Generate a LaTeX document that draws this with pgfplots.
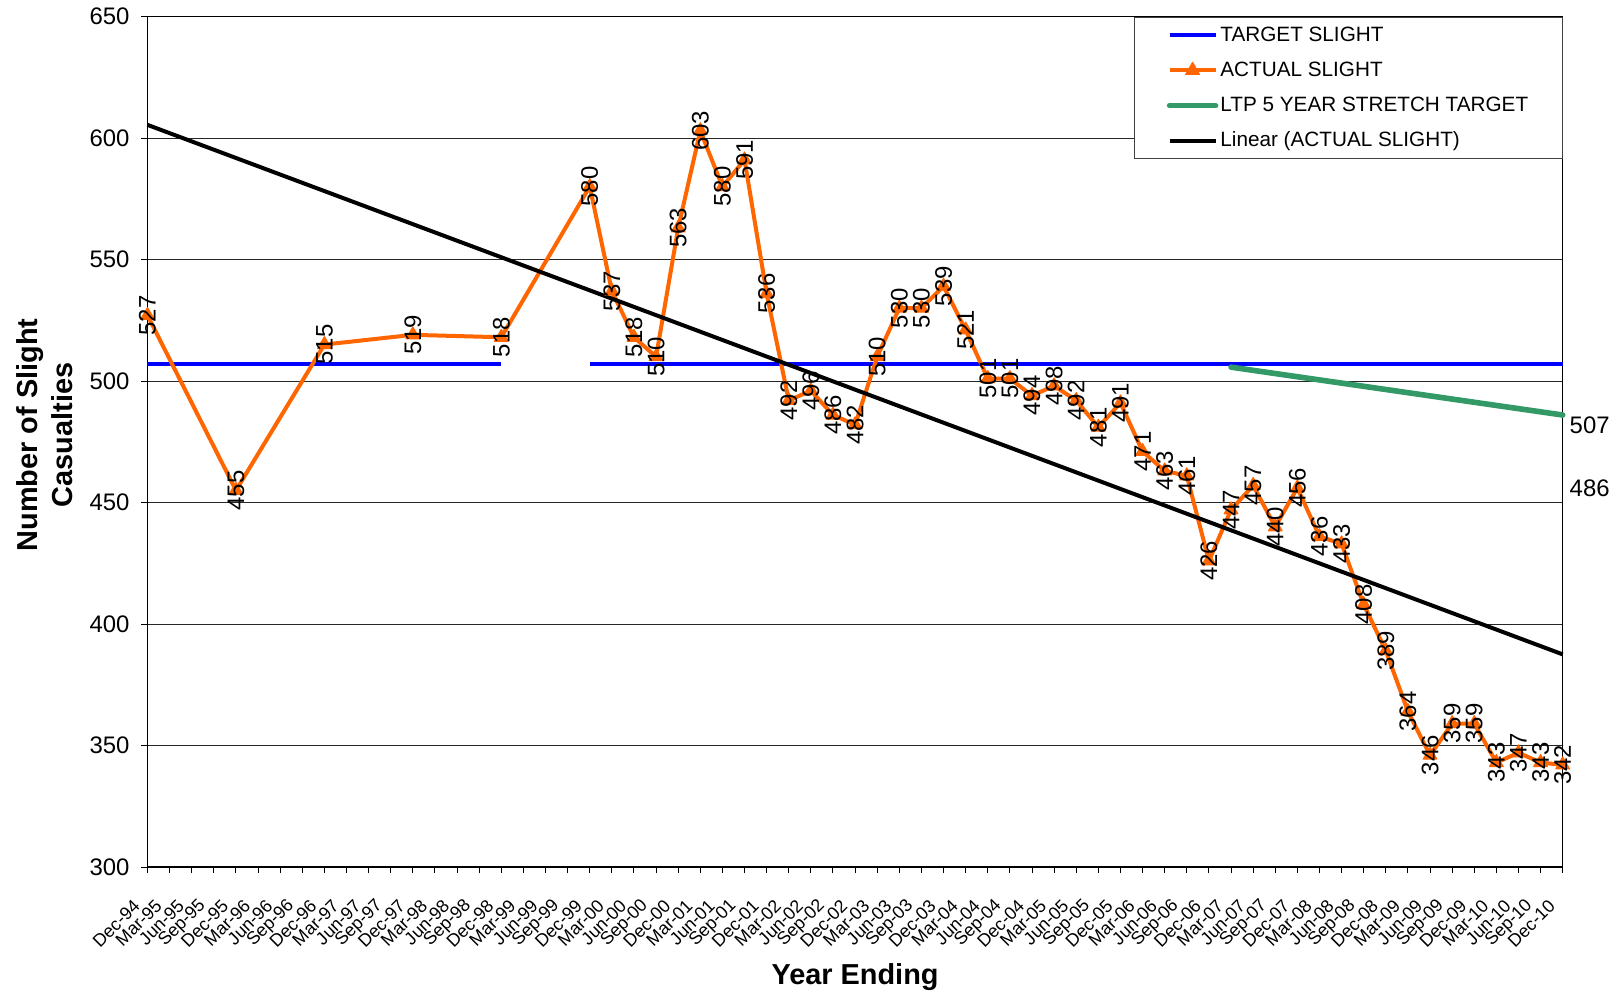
\documentclass[border=0pt]{standalone}
\usepackage{fontspec}
\setmainfont{Liberation Sans}
\usepackage{pgfplots}
\usepackage{pgfplotstable}
\pgfplotsset{compat=1.18}
\usetikzlibrary{calc}
\definecolor{actorange}{HTML}{FF6600}
\definecolor{ltpgreen}{HTML}{339966}

\pgfplotstableread{
x y
0 527
4 455
8 515
12 519
16 518
20 580
21 537
22 518
23 510
24 563
25 603
26 580
27 591
28 536
29 492
30 496
31 486
32 482
33 510
34 530
35 530
36 539
37 521
38 501
39 501
40 494
41 498
42 492
43 481
44 491
45 471
46 463
47 461
48 426
49 447
50 457
51 440
52 456
53 436
54 433
55 408
56 389
57 364
58 346
59 359
60 359
61 343
62 347
63 343
64 342
}\actual

\begin{document}
\begin{tikzpicture}
\begin{axis}[
  scale only axis, width=707.6bp, height=425.25bp,
  xmin=0, xmax=64, ymin=300, ymax=650,
  ytick={300,350,...,650},
  xtick={0,...,64},
  xticklabels={Dec-94,Mar-95,Jun-95,Sep-95,Dec-95,Mar-96,Jun-96,Sep-96,Dec-96,Mar-97,Jun-97,Sep-97,Dec-97,Mar-98,Jun-98,Sep-98,Dec-98,Mar-99,Jun-99,Sep-99,Dec-99,Mar-00,Jun-00,Sep-00,Dec-00,Mar-01,Jun-01,Sep-01,Dec-01,Mar-02,Jun-02,Sep-02,Dec-02,Mar-03,Jun-03,Sep-03,Dec-03,Mar-04,Jun-04,Sep-04,Dec-04,Mar-05,Jun-05,Sep-05,Dec-05,Mar-06,Jun-06,Sep-06,Dec-06,Mar-07,Jun-07,Sep-07,Dec-07,Mar-08,Jun-08,Sep-08,Dec-08,Mar-09,Jun-09,Sep-09,Dec-09,Mar-10,Jun-10,Sep-10,Dec-10},
  tick align=outside, major tick length=3bp,
  xtick pos=bottom, ytick pos=left,
  ymajorgrids, grid style={black!85, line width=0.5bp},
  axis line style={black, line width=0.6bp},
  tick style={black, line width=0.5bp},
  /pgf/number format/assume math mode=true,
  yticklabel style={font=\fontsize{12}{14}\selectfont, xshift=-2.5bp},
  xticklabel style={font=\fontsize{9}{10}\selectfont, xshift=-3bp, yshift=-12.5bp, rotate=45, anchor=east},
  xlabel={Year Ending},
  xlabel style={font=\fontsize{14.5}{17}\selectfont\bfseries, at={(axis description cs:0.5,-0.13)}, anchor=center},
  ylabel={Number of Slight\\Casualties},
  ylabel style={align=center, font=\fontsize{14.5}{17.5}\selectfont\bfseries, at={(axis description cs:-0.0728,0.508)}, anchor=center},
  legend style={at={(1,1)}, anchor=north east, draw=black!75, line width=0.5bp, fill=white,
    font=\fontsize{10.4}{12}\selectfont, inner xsep=16bp, inner ysep=3bp, row sep=5.65bp,
    nodes={inner sep=1bp, text height=8bp, text depth=2bp}},
  legend cell align=left,
  legend image code/.code={\draw[mark repeat=2,mark phase=2,#1] plot coordinates {(0bp,0bp)(11.5bp,0bp)(23bp,0bp)};},
  clip=false,
  unbounded coords=jump,
]
\addplot[color=blue, line width=2bp] coordinates {(0,507)(16,507)(18,nan)(20,507)(64,507)};
\addlegendentry{TARGET SLIGHT}
\addplot[color=actorange, line width=2bp, line join=round, mark=triangle*, mark size=4bp,
  mark options={fill=actorange, draw=actorange, line width=0.5bp},
  point meta=explicit symbolic, nodes near coords,
  nodes near coords style={rotate=90, anchor=center, font=\fontsize{12}{14}\selectfont, text=black, inner sep=0pt}]
  table[x=x, y=y, meta=y] {\actual};
\addlegendentry{ACTUAL SLIGHT}
\addplot[color=ltpgreen, line width=2.8bp, line cap=round] coordinates {(49,505.7)(64,486)};
\addlegendentry{LTP 5 YEAR STRETCH TARGET}
\addplot[color=black, line width=2bp] coordinates {(0,605.4)(64,387.5)};
\addlegendentry{Linear (ACTUAL SLIGHT)}
\node[anchor=west, font=\fontsize{12}{14}\selectfont, inner sep=0pt] at (axis cs:64.3,481.9) {507};
\node[anchor=west, font=\fontsize{12}{14}\selectfont, inner sep=0pt] at (axis cs:64.3,456.0) {486};
\end{axis}
\pgfresetboundingbox
\path[use as bounding box] ($(current axis.south west)+(-73.75bp,-65.5bp)$) rectangle ($(current axis.north east)+(27.65bp,8.25bp)$);
\end{tikzpicture}
\end{document}
